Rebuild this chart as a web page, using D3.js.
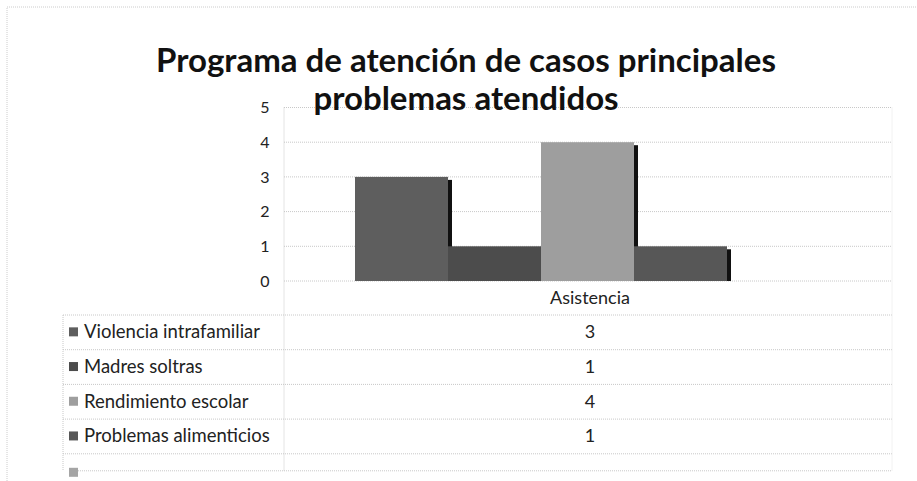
<!DOCTYPE html>
<html>
<head>
<meta charset="utf-8">
<script src="https://cdn.jsdelivr.net/npm/d3@7"></script>
<style>
    body { margin: 0; background: white; font-family: Lato, "Open Sans", sans-serif; }
    svg { display: block; }
</style>
</head>
<body>
<svg id="chart"></svg>
<script>
    // data
    const titleLines = ["Programa de atención de casos principales", "problemas atendidos"];
    const categories = ["Asistencia"];
    const seriesNames = ["Violencia intrafamiliar", "Madres soltras", "Rendimiento escolar", "Problemas alimenticios"];
    const seriesValues = [3, 1, 4, 1];
    const yTicks = [0, 1, 2, 3, 4, 5];
    const seriesColors = ["#5e5e5e", "#4c4c4c", "#9e9e9e", "#575757"];

    const width = 917, height = 481;
    const svg = d3.select("#chart").attr("width", width).attr("height", height);

    const plotLeft = 284, plotRight = 892;
    const y = d3.scaleLinear().domain([0, 5]).range([281, 107.5]);
    const xCat = d3.scaleBand().domain(categories).range([plotLeft, plotRight]);
    const xSeries = d3.scaleBand().domain(seriesNames).range([355, 727]);
    // table rows share the same pitch as the y axis
    const rowH = y(0) - y(1);
    const tableTop = 315;
    const rows = d3.scaleBand().domain(seriesNames).range([tableTop, tableTop + rowH * 4]);
    const tableLeft = 63;
    const tableBottom = rows.range()[1] + 17;

    const gridColor = "#c8c8c8";

    // outer chart border
    svg.append("rect")
        .attr("x", 7).attr("y", 7)
        .attr("width", width).attr("height", height)
        .attr("fill", "none")
        .attr("stroke", "#cccccc")
        .attr("stroke-dasharray", "1,1");

    // gridlines
    svg.append("g").selectAll("line")
        .data(yTicks)
        .enter().append("line")
        .attr("x1", plotLeft).attr("x2", plotRight)
        .attr("y1", d => y(d)).attr("y2", d => y(d))
        .attr("stroke", gridColor)
        .attr("stroke-dasharray", "1,1");

    // y axis labels
    const yAxis = d3.axisLeft(y).tickValues(yTicks).tickFormat(d3.format("d")).tickSize(0).tickPadding(15);
    const gy = svg.append("g").attr("transform", "translate(" + plotLeft + ",0)").call(yAxis);
    gy.select(".domain").remove();
    gy.selectAll("text")
        .attr("font-family", "Lato, sans-serif")
        .attr("font-size", 16)
        .attr("fill", "#222")
        .attr("text-anchor", "middle")
        .attr("dx", "-4");

    // table lines
    const tbl = svg.append("g").attr("stroke", gridColor).attr("stroke-dasharray", "1,1");
    tbl.selectAll("line.row")
        .data(seriesNames)
        .enter().append("line")
        .attr("class", "row")
        .attr("x1", tableLeft).attr("x2", plotRight)
        .attr("y1", d => rows(d)).attr("y2", d => rows(d));
    tbl.append("line")
        .attr("x1", tableLeft).attr("x2", plotRight)
        .attr("y1", rows.range()[1]).attr("y2", rows.range()[1]);
    tbl.append("line")
        .attr("x1", tableLeft + 15).attr("x2", plotRight)
        .attr("y1", tableBottom).attr("y2", tableBottom);
    tbl.append("line")
        .attr("x1", tableLeft).attr("x2", tableLeft)
        .attr("y1", rows.range()[0]).attr("y2", tableBottom);
    tbl.append("line")
        .attr("x1", plotLeft).attr("x2", plotLeft)
        .attr("y1", y(5)).attr("y2", tableBottom);
    tbl.append("line")
        .attr("x1", plotRight).attr("x2", plotRight)
        .attr("y1", y(5)).attr("y2", tableBottom)
        .attr("stroke", "#e4e4e4");

    // bars with their dark side shadow
    const bars = svg.append("g");
    seriesNames.forEach((name, i) => {
        const v = seriesValues[i];
        const x0 = xSeries(name), w = xSeries.bandwidth();
        bars.append("rect")
            .attr("x", x0 + w).attr("y", y(v) + 3)
            .attr("width", 4).attr("height", y(0) - y(v) - 3)
            .attr("fill", "#111");
        bars.append("rect")
            .attr("x", x0).attr("y", y(v))
            .attr("width", w).attr("height", y(0) - y(v))
            .attr("fill", seriesColors[i]);
    });

    // title
    svg.append("g").selectAll("text")
        .data(titleLines)
        .enter().append("text")
        .attr("x", 466)
        .attr("y", (d, i) => 72 + i * 38)
        .attr("text-anchor", "middle")
        .attr("font-family", "Lato, sans-serif")
        .attr("font-weight", "bold")
        .attr("font-size", 33)
        .attr("fill", "#111")
        .text(d => d);

    // category label
    svg.append("text")
        .attr("x", xCat("Asistencia") + xCat.bandwidth() / 2 + 2)
        .attr("y", y(0) + 23)
        .attr("text-anchor", "middle")
        .attr("font-family", "Lato, sans-serif")
        .attr("font-size", 18)
        .attr("fill", "#222")
        .text(categories[0]);

    // data table: legend keys, names, values
    const rowG = svg.append("g").selectAll("g")
        .data(seriesNames)
        .enter().append("g")
        .attr("transform", d => "translate(0," + (rows(d) + rows.bandwidth() / 2) + ")");
    rowG.append("rect")
        .attr("x", 69).attr("y", -5)
        .attr("width", 9).attr("height", 9)
        .attr("fill", (d, i) => seriesColors[i]);
    rowG.append("text")
        .attr("x", 84).attr("y", 6)
        .attr("font-family", "Lato, sans-serif")
        .attr("font-size", 18.5)
        .attr("fill", "#222")
        .text(d => d);
    rowG.append("text")
        .attr("x", xCat("Asistencia") + xCat.bandwidth() / 2 + 2).attr("y", 6)
        .attr("text-anchor", "middle")
        .attr("font-family", "Lato, sans-serif")
        .attr("font-size", 18)
        .attr("fill", "#222")
        .text((d, i) => seriesValues[i]);

    // stray empty legend key under the table
    svg.append("rect")
        .attr("x", 69).attr("y", tableBottom - 3)
        .attr("width", 9).attr("height", 9)
        .attr("fill", "#a5a5a5");
</script>
</body>
</html>
